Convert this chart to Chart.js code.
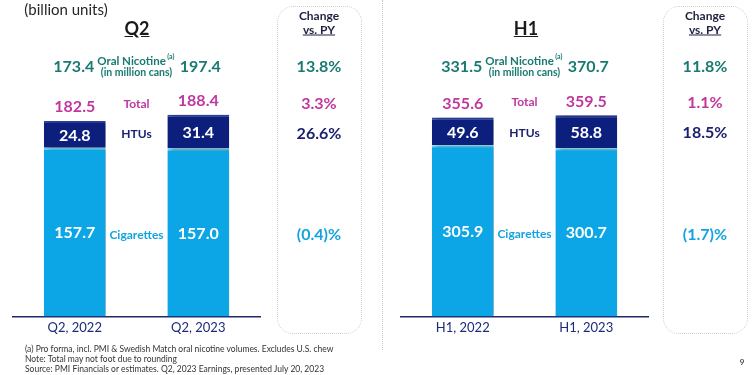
<!DOCTYPE html>
<html>
<head>
<meta charset="utf-8">
<script src="https://cdn.jsdelivr.net/npm/chart.js@4.4.0/dist/chart.umd.min.js"></script>
<style>
  body { margin: 0; background: #fff; }
  #page { position: relative; width: 753px; height: 375px; overflow: hidden; font-family: Lato, "Open Sans", sans-serif; }
  canvas { position: absolute; top: 0; }
  .c { position: absolute; transform: translate(-50%, -50%); white-space: nowrap; }
  .box { position: absolute; border: 1.3px dotted #cfcfcf; border-radius: 16px; }
  .hdr { font-weight: bold; font-size: 12px; color: #1e2140; }
  .title { font-weight: bold; font-size: 18px; color: #1a1a1a; text-decoration: underline; }
  .note { position: absolute; left: 25px; font-size: 8.5px; line-height: 10px; color: #333; white-space: nowrap; }
</style>
</head>
<body>
<div id="page">
  <canvas id="q2Chart" width="380" height="345" style="left:0"></canvas>
  <canvas id="h1Chart" width="371" height="345" style="left:382px"></canvas>

  <div class="c" style="left:66px;top:9px;font-size:15px;color:#262626">(billion units)</div>
  <div class="c title" style="left:137px;top:28px">Q2</div>
  <div class="c title" style="left:526px;top:28px">H1</div>

  <div style="position:absolute;left:382px;top:0;height:350px;border-left:1px dotted #c8c8c8"></div>

  <div class="box" style="left:277px;top:6px;width:83px;height:326px"></div>
  <div class="box" style="left:663px;top:6px;width:83px;height:326px"></div>
  <div class="c hdr" style="left:319px;top:15px">Change</div>
  <div class="c hdr" style="left:319px;top:29px;text-decoration:underline">vs. PY</div>
  <div class="c hdr" style="left:705px;top:15px">Change</div>
  <div class="c hdr" style="left:705px;top:29px;text-decoration:underline">vs. PY</div>

  <div class="note" style="top:344px">(a) Pro forma, incl. PMI &amp; Swedish Match oral nicotine volumes. Excludes U.S. chew</div>
  <div class="note" style="top:354px">Note: Total may not foot due to rounding</div>
  <div class="note" style="top:364px">Source: PMI Financials or estimates. Q2, 2023 Earnings, presented July 20, 2023</div>
  <div class="c" style="left:742px;top:362px;font-size:8px;font-weight:bold;color:#5a4a3a">9</div>
</div>

<script>
// Q2 panel data
const q2Periods = ['Q2, 2022', 'Q2, 2023'];
const q2Cigarettes = [157.7, 157.0];
const q2Htus = [24.8, 31.4];
const q2Totals = ['182.5', '188.4'];
const q2OralNicotine = ['173.4', '197.4'];
const q2Changes = ['13.8%', '3.3%', '26.6%', '(0.4)%'];

// H1 panel data
const h1Periods = ['H1, 2022', 'H1, 2023'];
const h1Cigarettes = [305.9, 300.7];
const h1Htus = [49.6, 58.8];
const h1Totals = ['355.6', '359.5'];
const h1OralNicotine = ['331.5', '370.7'];
const h1Changes = ['11.8%', '1.1%', '18.5%', '(1.7)%'];

const TEAL = '#187a70';
const MAGENTA = '#c0379f';
const NAVY = '#1b2170';
const LIGHT_BLUE = '#14a3e0';
const FONT = 'Lato, "Open Sans", sans-serif';

/**
 * Soft right-hand shadow behind the bars
 */
const shadowPlugin = {
    id: 'barShadow',
    beforeDatasetsDraw(chart) {
        const ctx = chart.ctx;
        ctx.save();
        ctx.shadowColor = 'rgba(0,0,0,0.4)';
        ctx.shadowOffsetX = 4;
        ctx.shadowOffsetY = 0;
        ctx.shadowBlur = 4;
    },
    afterDatasetsDraw(chart) {
        chart.ctx.restore();
    }
};

function text(ctx, str, x, y, size, color, weight) {
    ctx.font = (weight || 'bold') + ' ' + size + 'px ' + FONT;
    ctx.fillStyle = color;
    ctx.textAlign = 'center';
    ctx.textBaseline = 'middle';
    ctx.fillText(str, x, y);
}

/**
 * Value labels, row names and change column, placed from the bar elements
 */
const labelPlugin = {
    id: 'panelLabels',
    afterDatasetsDraw(chart, args, opts) {
        const ctx = chart.ctx;
        const cig = chart.getDatasetMeta(0).data;
        const htu = chart.getDatasetMeta(1).data;
        const midX = (cig[0].x + cig[1].x) / 2;
        const oralY = 67;

        ctx.save();
        // oral nicotine row
        text(ctx, opts.oral[0], cig[0].x - 1, oralY, 16, TEAL);
        text(ctx, opts.oral[1], cig[1].x + 2, oralY, 16, TEAL);
        ctx.font = 'bold 11.5px ' + FONT;
        const w = ctx.measureText('Oral Nicotine').width;
        text(ctx, 'Oral Nicotine', midX - 5, oralY - 6, 11.5, TEAL);
        text(ctx, '(a)', midX - 5 + w / 2 + 5, oralY - 10, 7, TEAL);
        text(ctx, '(in million cans)', midX, oralY + 6, 10.5, TEAL);
        text(ctx, opts.changes[0], opts.changeX, oralY, 16, TEAL);

        // totals above the stacks
        const totalYs = htu.map(b => b.y - 14);
        opts.totals.forEach((v, i) => text(ctx, v, htu[i].x, totalYs[i], 16, MAGENTA));
        const totalRowY = (totalYs[0] + totalYs[1]) / 2;
        text(ctx, 'Total', midX, totalRowY, 12, MAGENTA);
        text(ctx, opts.changes[1], opts.changeX, totalRowY, 16, MAGENTA);

        // HTUs segment
        const htuYs = htu.map(b => (b.y + b.base) / 2 + 1);
        htu.forEach((b, i) => text(ctx, chart.data.datasets[1].data[i].toFixed(1), b.x, htuYs[i], 16, '#ffffff'));
        const htuRowY = (htuYs[0] + htuYs[1]) / 2;
        text(ctx, 'HTUs', midX, htuRowY, 12, NAVY);
        text(ctx, opts.changes[2], opts.changeX, htuRowY, 16, NAVY);

        // cigarettes segment
        const cigYs = cig.map(b => (b.y + b.base) / 2 + 1);
        cig.forEach((b, i) => text(ctx, chart.data.datasets[0].data[i].toFixed(1), b.x, cigYs[i], 16, '#ffffff'));
        const cigRowY = (cigYs[0] + cigYs[1]) / 2 + 2;
        text(ctx, 'Cigarettes', midX, cigRowY, 12, LIGHT_BLUE);
        text(ctx, opts.changes[3], opts.changeX, cigRowY, 16, LIGHT_BLUE);
        ctx.restore();
    }
};

function buildPanel(canvasId, periods, cigarettes, htus, yMax, padding, labels) {
    const ctx = document.getElementById(canvasId).getContext('2d');
    return new Chart(ctx, {
        type: 'bar',
        data: {
            labels: periods,
            datasets: [{
                label: 'Cigarettes',
                data: cigarettes,
                backgroundColor: '#0ca6e6',
                borderColor: '#62d6f7',
                borderWidth: { top: 2, left: 0, right: 0, bottom: 0 },
                borderSkipped: false
            }, {
                label: 'HTUs',
                data: htus,
                backgroundColor: '#0d1f7c',
                borderColor: '#2e45a8',
                borderWidth: { top: 2, left: 0, right: 0, bottom: 0 },
                borderSkipped: false
            }]
        },
        options: {
            responsive: false,
            animation: false,
            events: [],
            datasets: { bar: { categoryPercentage: 0.5, barPercentage: 1 } },
            layout: { padding: padding },
            plugins: {
                legend: { display: false },
                tooltip: { enabled: false },
                panelLabels: labels
            },
            scales: {
                x: {
                    stacked: true,
                    grid: { display: false, drawTicks: false },
                    border: { display: true, color: '#1f2a6e', width: 1.5 },
                    ticks: { font: { family: FONT, size: 13 }, color: '#1c2a7a', padding: 4 }
                },
                y: { stacked: true, display: false, min: 0, max: yMax }
            }
        },
        plugins: [shadowPlugin, labelPlugin]
    });
}

function initializeCharts() {
    buildPanel('q2Chart', q2Periods, q2Cigarettes, q2Htus, 277,
        { left: 13, right: 120, top: 20, bottom: 5 },
        { oral: q2OralNicotine, totals: q2Totals, changes: q2Changes, changeX: 319 });
    buildPanel('h1Chart', h1Periods, h1Cigarettes, h1Htus, 530,
        { left: 19, right: 105, top: 20, bottom: 5 },
        { oral: h1OralNicotine, totals: h1Totals, changes: h1Changes, changeX: 323 });
}

const fontLoads = ['bold 16px Lato', '13px Lato', 'bold 12px Lato'].map(f => document.fonts.load(f));
Promise.all(fontLoads).then(initializeCharts, initializeCharts);
</script>
</body>
</html>
